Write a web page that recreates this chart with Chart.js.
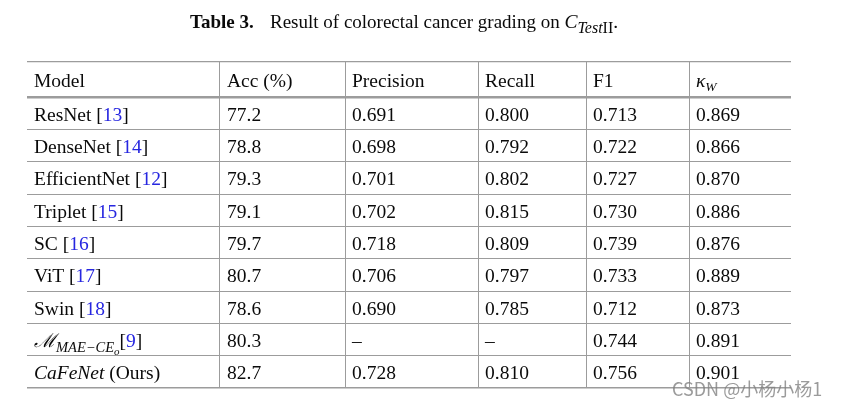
<!DOCTYPE html>
<html>
<head>
<meta charset="utf-8">
<script src="https://cdn.jsdelivr.net/npm/chart.js@4.4.1/dist/chart.umd.min.js"></script>
<style>
  html, body { margin: 0; background: #fff; }
  canvas { display: block; }
</style>
</head>
<body>
<canvas id="table" width="846" height="407"></canvas>
<script>
// table data
const headers = ['Model', 'Acc (%)', 'Precision', 'Recall', 'F1', 'κw'];
const models = ['ResNet', 'DenseNet', 'EfficientNet', 'Triplet', 'SC', 'ViT', 'Swin', 'MMAE-CEo', 'CaFeNet'];
const refs = ['13', '14', '12', '15', '16', '17', '18', '9', null];
const acc = [77.2, 78.8, 79.3, 79.1, 79.7, 80.7, 78.6, 80.3, 82.7];
const precision = [0.691, 0.698, 0.701, 0.702, 0.718, 0.706, 0.690, null, 0.728];
const recall = [0.800, 0.792, 0.802, 0.815, 0.809, 0.797, 0.785, null, 0.810];
const f1 = [0.713, 0.722, 0.727, 0.730, 0.739, 0.733, 0.712, 0.744, 0.756];
const kappa = [0.869, 0.866, 0.870, 0.886, 0.876, 0.889, 0.873, 0.891, 0.901];

// layout (column / row edges in scale units = px)
const colEdges = [0, 193, 318, 451, 559, 662, 764];
const headerH = 35;
const rowH = 32.33;
const rowEdges = [0];
for (let i = 0; i <= models.length; i++) rowEdges.push(headerH + rowH * i);

const serif = "'Liberation Serif', 'Times New Roman', serif";
const base = `19.5px ${serif}`;
const lineGrey = '#9c9c9c';
const refBlue = '#2626e0';
const pad = 7;

function drawRuns(ctx, x, y, runs) {
    runs.forEach(r => {
        ctx.font = r.font || base;
        ctx.fillStyle = r.color || '#0a0a0a';
        ctx.fillText(r.t, x, y + (r.dy || 0));
        x += ctx.measureText(r.t).width;
    });
    return x;
}

function modelRuns(i) {
    if (i === 7) {
        return [
            { t: 'ℳ', font: `italic 19px 'DejaVu Serif', serif` },
            { t: 'MAE−CE', font: `italic 14.5px ${serif}`, dy: 5 },
            { t: 'o', font: `italic 11px ${serif}`, dy: 8 },
            { t: '[' }, { t: refs[i], color: refBlue }, { t: ']' }
        ];
    }
    if (i === 8) {
        return [{ t: models[i], font: `italic 19.5px ${serif}` }, { t: ' (Ours)' }];
    }
    return [{ t: models[i] + ' [' }, { t: refs[i], color: refBlue }, { t: ']' }];
}

function fmt(v, d) {
    return v === null ? '–' : v.toFixed(d);
}

const cellPlugin = {
    id: 'cells',
    afterDraw(chart) {
        const { ctx, scales: { x, y } } = chart;
        ctx.save();
        ctx.textBaseline = 'alphabetic';

        // title
        drawRuns(ctx, 190, 28, [{ t: 'Table 3.', font: `bold 19px ${serif}` }]);
        drawRuns(ctx, 270, 28, [
            { t: 'Result of colorectal cancer grading on ', font: `19px ${serif}` },
            { t: 'C', font: `italic 19.5px ${serif}` },
            { t: 'Test', font: `italic 16px ${serif}`, dy: 5 },
            { t: 'II', font: `16px ${serif}`, dy: 5 },
            { t: '.' }
        ]);

        // header row
        const hy = (y.getPixelForValue(rowEdges[0]) + y.getPixelForValue(rowEdges[1])) / 2 + 7.5;
        headers.forEach((h, c) => {
            const cx = x.getPixelForValue(colEdges[c]) + pad;
            if (c === 5) {
                drawRuns(ctx, cx, hy, [
                    { t: 'κ', font: `italic 19.5px ${serif}` },
                    { t: 'W', font: `italic 13.5px ${serif}`, dy: 4 }
                ]);
            } else {
                drawRuns(ctx, cx, hy, [{ t: h }]);
            }
        });

        // body rows
        models.forEach((m, i) => {
            const cy = (y.getPixelForValue(rowEdges[i + 1]) + y.getPixelForValue(rowEdges[i + 2])) / 2 + 7.5;
            const cols = [
                modelRuns(i),
                [{ t: fmt(acc[i], 1) }],
                [{ t: fmt(precision[i], 3) }],
                [{ t: fmt(recall[i], 3) }],
                [{ t: fmt(f1[i], 3) }],
                [{ t: fmt(kappa[i], 3) }]
            ];
            cols.forEach((runs, c) => drawRuns(ctx, x.getPixelForValue(colEdges[c]) + pad, cy, runs));
        });

        // watermark
        ctx.font = "18px 'Noto Sans CJK SC', sans-serif";
        ctx.fillStyle = 'rgba(130,130,130,0.8)';
        ctx.fillText('CSDN @小杨小杨1', 672, 396);
        ctx.restore();
    }
};

const lastRow = rowEdges.length - 1;

new Chart(document.getElementById('table'), {
    type: 'scatter',
    data: { datasets: [{ data: [], pointRadius: 0 }] },
    options: {
        responsive: false,
        animation: false,
        layout: { padding: { left: 27, top: 62, right: 55, bottom: 19 } },
        plugins: { legend: { display: false }, tooltip: { enabled: false } },
        scales: {
            x: {
                type: 'linear',
                min: 0,
                max: colEdges[colEdges.length - 1],
                afterBuildTicks: s => { s.ticks = colEdges.map(v => ({ value: v })); },
                ticks: { display: false },
                border: { display: false },
                grid: {
                    drawTicks: false,
                    color: c => (c.index === 0 || c.index === colEdges.length - 1) ? 'rgba(0,0,0,0)' : lineGrey,
                    lineWidth: 1
                }
            },
            y: {
                type: 'linear',
                reverse: true,
                min: 0,
                max: rowEdges[lastRow],
                afterBuildTicks: s => { s.ticks = rowEdges.map(v => ({ value: v })); },
                ticks: { display: false },
                border: { display: false },
                grid: {
                    drawTicks: false,
                    color: lineGrey,
                    lineWidth: c => c.index === 1 ? 2.5 : (c.index === 0 ? 1.3 : (c.index === lastRow ? 1.6 : 1))
                }
            }
        }
    },
    plugins: [cellPlugin]
});
</script>
</body>
</html>
